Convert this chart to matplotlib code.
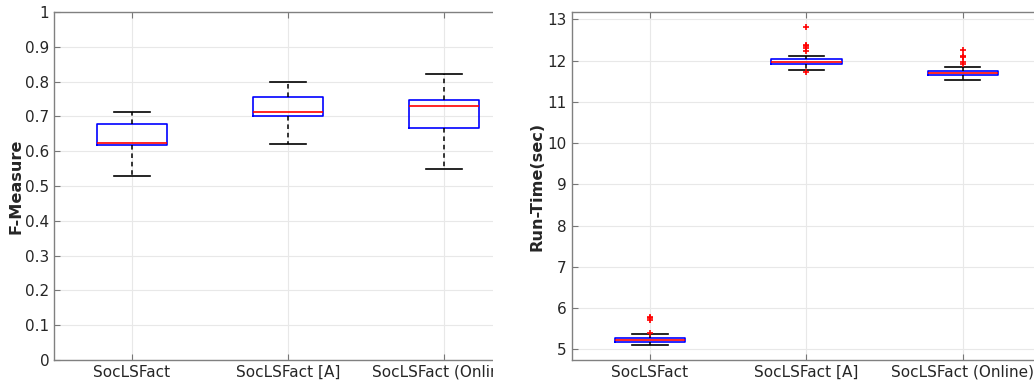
import matplotlib
matplotlib.use("Agg")
import matplotlib.pyplot as plt
from matplotlib.patches import Rectangle

plt.rcParams["font.family"] = ["DejaVu Sans"]

labels = ["SocLSFact", "SocLSFact [A]", "SocLSFact (Online)"]

# F-Measure box statistics (lower whisker, q1, median, q3, upper whisker)
fm_low = [0.528, 0.622, 0.550]
fm_q1 = [0.617, 0.701, 0.668]
fm_med = [0.625, 0.714, 0.730]
fm_q3 = [0.678, 0.756, 0.748]
fm_high = [0.713, 0.800, 0.822]
fm_fliers = [[], [], []]

# Run-time box statistics
rt_low = [5.105, 11.77, 11.52]
rt_q1 = [5.186, 11.917, 11.64]
rt_med = [5.226, 11.974, 11.69]
rt_q3 = [5.275, 12.03, 11.74]
rt_high = [5.364, 12.12, 11.85]
rt_fliers = [[5.40, 5.71, 5.75, 5.79],
             [11.73, 12.24, 12.30, 12.35, 12.39, 12.81],
             [11.91, 11.97, 12.10, 12.12, 12.26]]


def make_stats(low, q1, med, q3, high, fliers):
    return [dict(whislo=a, q1=b, med=c, q3=d, whishi=e, fliers=f, label=l)
            for a, b, c, d, e, f, l in zip(low, q1, med, q3, high, fliers, labels)]


def draw(ax, stats):
    ax.bxp(stats, positions=[1, 2, 3], widths=0.45, showfliers=True,
           boxprops=dict(color="#0000ff", linewidth=1.2),
           medianprops=dict(color="#ff0000", linewidth=1.2),
           whiskerprops=dict(color="black", linestyle=(0, (3, 2.5)), linewidth=1.1),
           capprops=dict(color="black", linewidth=1.2),
           flierprops=dict(marker="+", markeredgecolor="#ff0000", markersize=4,
                           markeredgewidth=1.2, linestyle="none"))
    ax.set_xlim(0.5, 3.5)
    ax.set_xticks([1, 2, 3])
    ax.set_xticklabels(labels)
    ax.grid(True, color="#e8e8e8", linewidth=0.8)
    ax.set_axisbelow(True)
    ax.tick_params(direction="in", top=True, right=True, labelsize=11,
                   colors="#262626", length=4, width=0.8)
    ax.tick_params(axis="both", color="#777777")
    for s in ax.spines.values():
        s.set_color("#808080")
        s.set_linewidth(1.0)


fig = plt.figure(figsize=(10.34, 3.85), dpi=100)

ax1 = fig.add_axes([54 / 1034, 25 / 385, (522 - 54) / 1034, 348 / 385])
draw(ax1, make_stats(fm_low, fm_q1, fm_med, fm_q3, fm_high, fm_fliers))
ax1.set_ylim(0, 1)
ax1.set_yticks([i / 10 for i in range(11)])
ax1.set_yticklabels(["0"] + ["%.1f" % (i / 10) for i in range(1, 10)] + ["1"])
ax1.set_ylabel("F-Measure", fontsize=11.6, fontweight="bold", color="#262626", labelpad=1)

ax2 = fig.add_axes([571.7 / 1034, 25 / 385, (1041 - 571.7) / 1034, 348 / 385])
draw(ax2, make_stats(rt_low, rt_q1, rt_med, rt_q3, rt_high, rt_fliers))
ax2.set_ylim(4.74, 13.18)
ax2.set_yticks(range(5, 14))
ax2.set_ylabel("Run-Time(sec)", fontsize=11.6, fontweight="bold", color="#262626", labelpad=2)

# the left panel is cut off at its right edge in the original
fig.add_artist(Rectangle((492.5 / 1034, 0), 35 / 1034, 1, transform=fig.transFigure,
                         facecolor="white", edgecolor="none", zorder=10))

fig.savefig("out.png", dpi=100)
